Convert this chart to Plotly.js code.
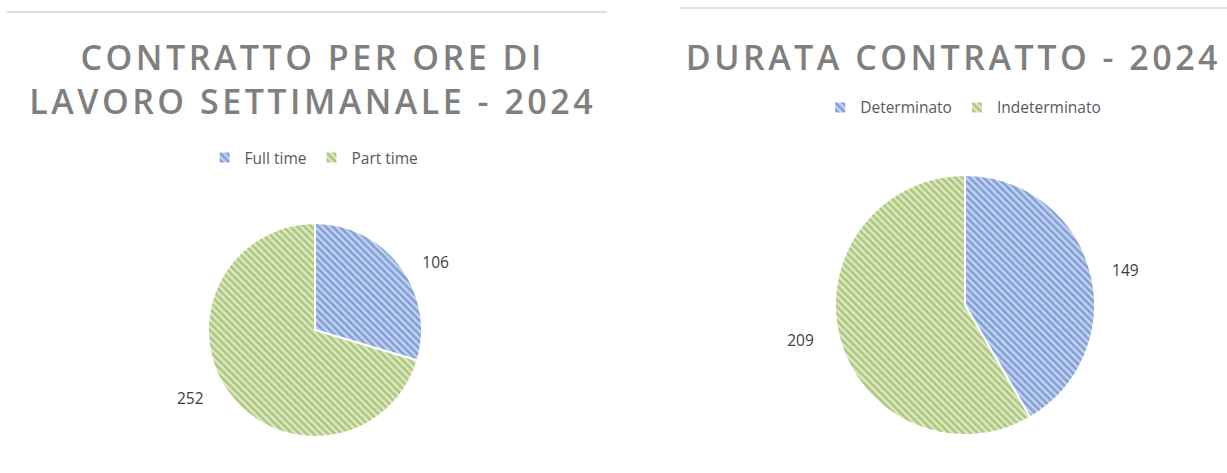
<!DOCTYPE html>
<html>
<head>
<meta charset="utf-8">
<script src="https://cdn.plot.ly/plotly-3.0.1.min.js"></script>
<style>
html,body{margin:0;padding:0;background:#fff;}
#chart{width:1227px;height:473px;}
#chart .annotation-text{letter-spacing:3.5px;}
</style>
</head>
<body>
<div id="chart"></div>
<script>
// Data
const hoursLabels = ["Full time", "Part time"];
const hoursValues = [106, 252];
const durationLabels = ["Determinato", "Indeterminato"];
const durationValues = [149, 209];
const titleLeft = "CONTRATTO PER ORE DI<br>LAVORO SETTIMANALE - 2024";
const titleRight = "DURATA CONTRATTO - 2024";

const sliceColors = ["#c3d3ef", "#dce8c6"];
const stripeColors = ["#7f9ed6", "#adc77a"];

function pieTrace(labels, values, domain, legendId) {
  return {
    type: "pie",
    labels: labels,
    values: values,
    sort: false,
    direction: "clockwise",
    rotation: 0,
    domain: domain,
    legend: legendId,
    texttemplate: ["    %{value}", "%{value}     "],
    textposition: "outside",
    outsidetextfont: {family: "Open Sans, sans-serif", size: 15.5, color: "#404040"},
    hoverinfo: "label+value",
    marker: {
      colors: sliceColors,
      line: {color: "#ffffff", width: 2},
      pattern: {shape: "\\", fgcolor: stripeColors, bgcolor: sliceColors, size: 5, solidity: 0.5, fillmode: "replace"}
    }
  };
}

const data = [
  pieTrace(hoursLabels, hoursValues, {x: [0.1695, 0.3439], y: [0.0761, 0.5285]}, "legend"),
  pieTrace(durationLabels, durationValues, {x: [0.6805, 0.8924], y: [0.0803, 0.630]}, "legend2")
];

const titleFont = {family: "Open Sans, sans-serif", size: 34, color: "#7f7f7f", weight: 600};
const legendFont = {family: "Open Sans, sans-serif", size: 15.5, color: "#595959"};

const layout = {
  width: 1227, height: 473,
  margin: {l: 0, r: 0, t: 0, b: 0},
  paper_bgcolor: "#ffffff",
  showlegend: true,
  legend: {orientation: "h", x: 0.256, xanchor: "center", y: 0.666, yanchor: "middle", font: legendFont, itemwidth: 30, traceorder: "normal"},
  legend2: {orientation: "h", x: 0.785, xanchor: "center", y: 0.772, yanchor: "middle", font: legendFont, itemwidth: 30, traceorder: "normal"},
  annotations: [
    {text: titleLeft, xref: "paper", yref: "paper", x: 0.255, y: 0.834, xanchor: "center", yanchor: "middle", showarrow: false, font: titleFont},
    {text: titleRight, xref: "paper", yref: "paper", x: 0.7775, y: 0.8795, xanchor: "center", yanchor: "middle", showarrow: false, font: titleFont}
  ],
  shapes: [
    {type: "line", xref: "paper", yref: "paper", x0: 7/1227, x1: 607/1227, y0: 1-12/473, y1: 1-12/473, line: {color: "#e0e0e0", width: 2}},
    {type: "line", xref: "paper", yref: "paper", x0: 680/1227, x1: 1, y0: 1-8/473, y1: 1-8/473, line: {color: "#e0e0e0", width: 2}}
  ]
};

Plotly.newPlot("chart", data, layout, {displayModeBar: false, staticPlot: true});
</script>
</body>
</html>
